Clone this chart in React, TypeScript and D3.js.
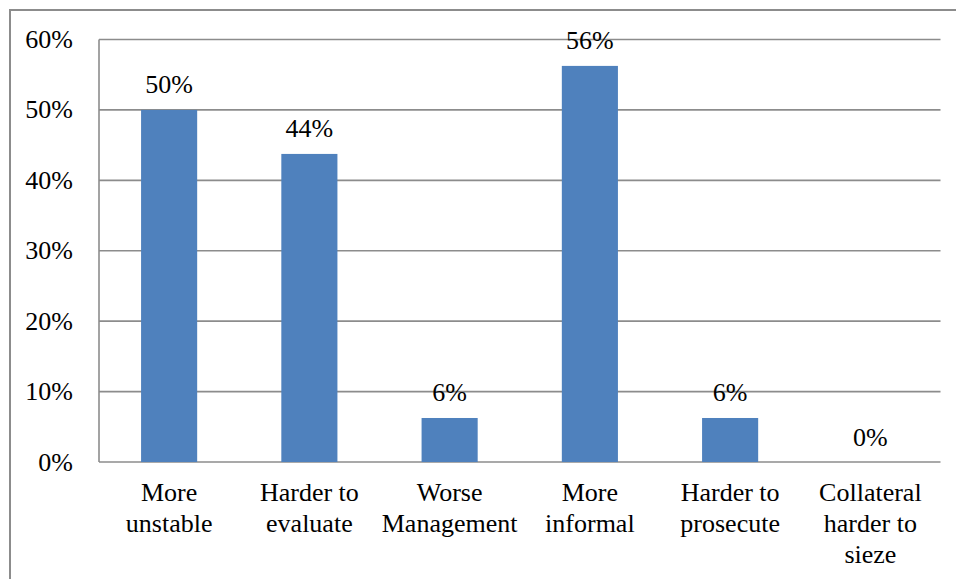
import React, { useEffect, useRef } from 'react';
import * as d3 from 'd3';

const categories: string[][] = [
  ['More', 'unstable'],
  ['Harder to', 'evaluate'],
  ['Worse', 'Management'],
  ['More', 'informal'],
  ['Harder to', 'prosecute'],
  ['Collateral', 'harder to', 'sieze'],
];
const values: number[] = [0.5, 0.4375, 0.0625, 0.5625, 0.0625, 0];
const yTicks: number[] = [0, 0.1, 0.2, 0.3, 0.4, 0.5, 0.6];

export default function App() {
  const ref = useRef<SVGSVGElement | null>(null);

  useEffect(() => {
    const width = 956;
    const height = 579;
    const margin = { top: 39.5, right: 15.5, bottom: 117, left: 99 };
    const font = 'Liberation Serif, Tinos, DejaVu Serif, serif';
    const fontSize = 26;
    const grid = '#8c8c8c';

    const svg = d3.select(ref.current);
    svg.selectAll('*').remove();

    const x = d3
      .scaleBand<number>()
      .domain(d3.range(values.length))
      .range([margin.left, width - margin.right]);
    const barWidth = x.step() * 0.4;

    const y = d3
      .scaleLinear()
      .domain([0, 0.6])
      .range([height - margin.bottom, margin.top]);

    // outer chart frame
    svg
      .append('path')
      .attr('d', `M10,${height} V10 H${width}`)
      .attr('fill', 'none')
      .attr('stroke', grid)
      .attr('stroke-width', 2);

    // gridlines
    svg
      .append('g')
      .selectAll('line')
      .data(yTicks)
      .join('line')
      .attr('x1', margin.left)
      .attr('x2', width - margin.right)
      .attr('y1', (d) => y(d))
      .attr('y2', (d) => y(d))
      .attr('stroke', grid)
      .attr('stroke-width', 1.6);

    // left axis line
    svg
      .append('line')
      .attr('x1', margin.left)
      .attr('x2', margin.left)
      .attr('y1', y(0.6))
      .attr('y2', y(0))
      .attr('stroke', grid)
      .attr('stroke-width', 1.6);

    const texts = svg
      .append('g')
      .attr('font-family', font)
      .attr('font-size', fontSize)
      .attr('fill', '#000');

    // y tick labels
    texts
      .append('g')
      .selectAll('text')
      .data(yTicks)
      .join('text')
      .attr('x', margin.left - 26)
      .attr('y', (d) => y(d) + 8.5)
      .attr('text-anchor', 'end')
      .text((d) => d3.format('.0%')(d));

    // bars
    svg
      .append('g')
      .attr('fill', '#4F81BD')
      .selectAll('rect')
      .data(values)
      .join('rect')
      .attr('x', (d, i) => (x(i) as number) + x.bandwidth() / 2 - barWidth / 2)
      .attr('y', (d) => y(d))
      .attr('width', barWidth)
      .attr('height', (d) => y(0) - y(d));

    // value labels (drawn after bars)
    const labels = svg
      .append('g')
      .attr('font-family', font)
      .attr('font-size', fontSize)
      .attr('fill', '#000');
    labels
      .selectAll('text')
      .data(values)
      .join('text')
      .attr('x', (d, i) => (x(i) as number) + x.bandwidth() / 2)
      .attr('y', (d) => y(d) - 16.5)
      .attr('text-anchor', 'middle')
      .text((d) => d3.format('.0%')(d));

    // category labels
    const cat = texts
      .append('g')
      .selectAll('text')
      .data(categories)
      .join('text')
      .attr('x', (d, i) => (x(i) as number) + x.bandwidth() / 2)
      .attr('y', y(0) + 39)
      .attr('text-anchor', 'middle');
    cat
      .selectAll('tspan')
      .data((d) => d)
      .join('tspan')
      .attr('x', function () {
        return (this as SVGTSpanElement).parentElement!.getAttribute('x');
      })
      .attr('dy', (d, i) => (i === 0 ? 0 : 31))
      .text((d) => d);
  }, []);

  return (
    <svg
      ref={ref}
      width={956}
      height={579}
      style={{ position: 'absolute', left: 0, top: 0, background: '#fff' }}
    />
  );
}
